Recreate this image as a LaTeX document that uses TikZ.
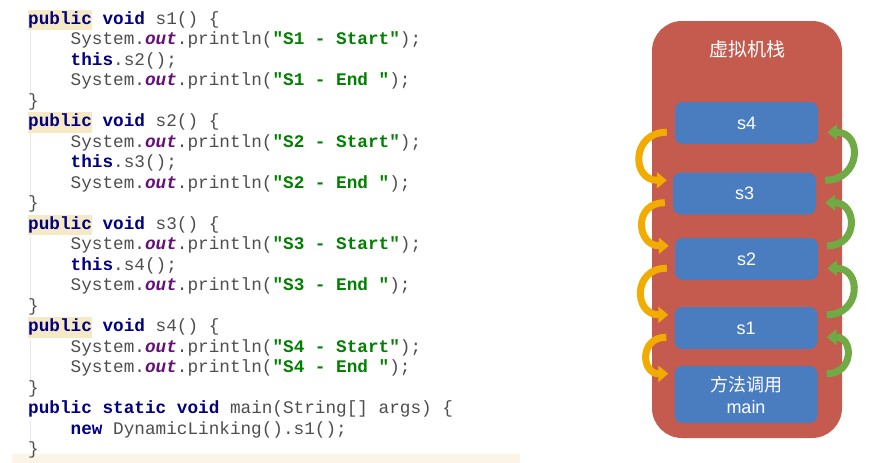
\documentclass[tikz,border=0pt]{standalone}
\usepackage{fontspec}
\setmainfont{Liberation Sans}
\setmonofont{Liberation Mono}
\newfontfamily\cjk{Noto Sans CJK SC}
\usepackage{xcolor}
\usetikzlibrary{arrows.meta,positioning}
\definecolor{kwblue}{RGB}{0,0,128}
\definecolor{fieldpurple}{RGB}{102,14,122}
\definecolor{strgreen}{RGB}{0,128,0}
\definecolor{codegray}{RGB}{78,78,78}
\definecolor{hlyellow}{RGB}{246,234,198}
\definecolor{guidegray}{RGB}{232,232,232}
\definecolor{bandpeach}{RGB}{253,244,232}
\definecolor{stackred}{RGB}{197,90,78}
\definecolor{frameblue}{RGB}{73,125,192}
\definecolor{callorange}{RGB}{242,172,0}
\definecolor{retgreen}{RGB}{112,170,68}
\newcommand{\kw}[1]{\textcolor{kwblue}{\bfseries #1}}
\newcommand{\hlkw}[1]{{\setlength{\fboxsep}{0pt}\colorbox{hlyellow}{\strut\kw{#1}}}}
\newcommand{\fld}[1]{\textcolor{fieldpurple}{\bfseries\itshape #1}}
\newcommand{\jstr}[1]{\textcolor{strgreen}{\bfseries #1}}
\tikzset{codeline/.style={anchor=base west, inner sep=0pt, font=\ttfamily\fontsize{17.7}{20.5}\selectfont, text=codegray}, frame/.style={rectangle, rounded corners=8pt, fill=frameblue, text=white, minimum width=143pt, minimum height=42pt, font=\fontsize{18}{22}\selectfont, align=center}, callarrow/.style={draw=callorange, line width=7pt, -{Triangle[length=10pt,width=16pt]}, out=180, in=180, looseness=1.9}, retarrow/.style={draw=retgreen, line width=7pt, -{Triangle[length=10pt,width=16pt]}, out=0, in=0, looseness=1.9}}

\begin{document}
\begin{tikzpicture}[x=1pt,y=-1pt]
\useasboundingbox (0,0) rectangle (884,463);
\fill[white] (0,0) rectangle (884,463);
\fill[bandpeach] (12,454) rectangle (520,463);
\foreach \ya/\yb in {30/96,133/199,236/302,339/384,421/446} {\draw[guidegray, line width=1pt] (30,\ya) -- (30,\yb);}
% code
\node[codeline] (c1) at (28,24) {\hlkw{public} \kw{void} s1() \{};
\node[codeline] (c2) at (70.5,44.5) {System.\fld{out}.println(\jstr{"S1 - Start"});};
\node[codeline] (c3) at (70.5,65) {\kw{this}.s2();};
\node[codeline] (c4) at (70.5,85.5) {System.\fld{out}.println(\jstr{"S1 - End "});};
\node[codeline] (c5) at (28,106) {\}};
\node[codeline] (c6) at (28,126.5) {\hlkw{public} \kw{void} s2() \{};
\node[codeline] (c7) at (70.5,147) {System.\fld{out}.println(\jstr{"S2 - Start"});};
\node[codeline] (c8) at (70.5,167.5) {\kw{this}.s3();};
\node[codeline] (c9) at (70.5,188) {System.\fld{out}.println(\jstr{"S2 - End "});};
\node[codeline] (c10) at (28,208.5) {\}};
\node[codeline] (c11) at (28,229) {\hlkw{public} \kw{void} s3() \{};
\node[codeline] (c12) at (70.5,249.5) {System.\fld{out}.println(\jstr{"S3 - Start"});};
\node[codeline] (c13) at (70.5,270) {\kw{this}.s4();};
\node[codeline] (c14) at (70.5,290.5) {System.\fld{out}.println(\jstr{"S3 - End "});};
\node[codeline] (c15) at (28,311) {\}};
\node[codeline] (c16) at (28,331.5) {\hlkw{public} \kw{void} s4() \{};
\node[codeline] (c17) at (70.5,352) {System.\fld{out}.println(\jstr{"S4 - Start"});};
\node[codeline] (c18) at (70.5,372.5) {System.\fld{out}.println(\jstr{"S4 - End "});};
\node[codeline] (c19) at (28,393) {\}};
\node[codeline] (c20) at (28,413.5) {\kw{public} \kw{static} \kw{void} main(String[] args) \{};
\node[codeline] (c21) at (70.5,434) {\kw{new} DynamicLinking().s1();};
\node[codeline] (c22) at (28,454.5) {\}};
% stack
\node[fill=stackred, rounded corners=30pt, minimum width=190pt, minimum height=417pt, inner sep=0pt] (stack) at (747,229.5) {};
\node[text=white, font=\cjk\fontsize{19}{22}\selectfont] (title) at (747,49) {虚拟机栈};
\node[frame] (s4) at (746.5,123) {s4};
\node[frame] (s3) at (744.5,193.5) {s3};
\node[frame] (s2) at (746.5,259) {s2};
\node[frame] (s1) at (746,328) {s1};
\node[frame, minimum height=57pt] (mainbox) at (746,394.5) {{\cjk 方法调用}\\main};
\foreach \up/\low in {s4/s3,s3/s2,s2/s1,s1/mainbox} {
  \draw[callarrow] ([xshift=-8pt,yshift=12pt]\up.south west) to ([xshift=-6pt,yshift=-8pt]\low.north west);
  \draw[retarrow] ([xshift=9pt,yshift=-8pt]\low.north east) to ([xshift=9pt,yshift=12pt]\up.south east);
}
\end{tikzpicture}
\end{document}
